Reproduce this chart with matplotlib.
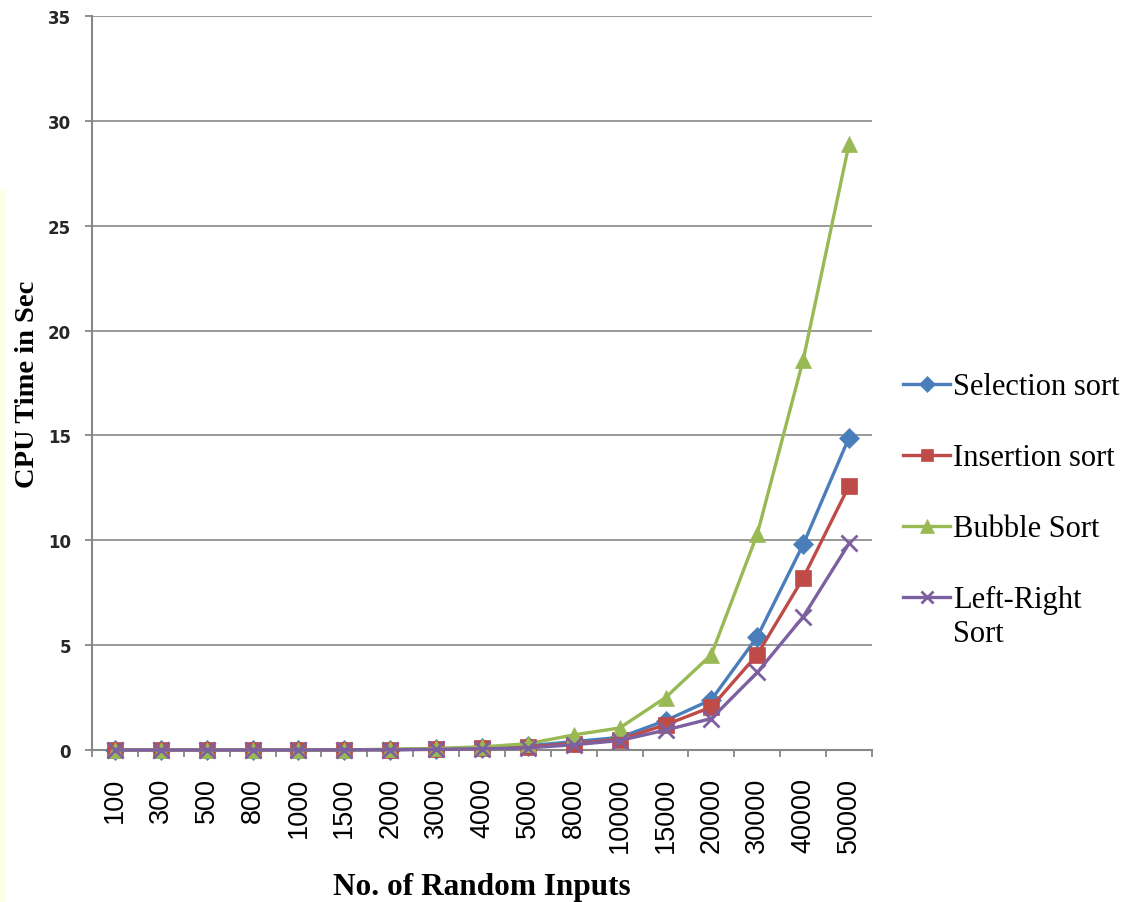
import matplotlib
matplotlib.use("Agg")
import matplotlib.pyplot as plt
from matplotlib.patches import Rectangle
from matplotlib.lines import Line2D

categories = ["100", "300", "500", "800", "1000", "1500", "2000", "3000", "4000",
              "5000", "8000", "10000", "15000", "20000", "30000", "40000", "50000"]

selection = [0.0, 0.0, 0.0, 0.0, 0.0, 0.01, 0.02, 0.05, 0.1, 0.2, 0.4, 0.6, 1.4, 2.4, 5.4, 9.8, 14.9]
insertion = [0.0, 0.0, 0.0, 0.0, 0.0, 0.01, 0.02, 0.04, 0.08, 0.15, 0.3, 0.5, 1.2, 2.05, 4.55, 8.2, 12.6]
bubble = [0.0, 0.0, 0.0, 0.0, 0.0, 0.01, 0.03, 0.08, 0.15, 0.3, 0.72, 1.05, 2.5, 4.55, 10.3, 18.6, 28.9]
left_right = [0.0, 0.0, 0.0, 0.0, 0.0, 0.01, 0.01, 0.03, 0.06, 0.1, 0.25, 0.45, 0.95, 1.5, 3.7, 6.35, 9.85]

series_names = ["Selection sort", "Insertion sort", "Bubble Sort", "Left-Right\nSort"]
series_values = [selection, insertion, bubble, left_right]
series_colors = ["#4A7EBB", "#BE4B48", "#98B954", "#7D60A0"]
series_markers = ["D", "s", "^", "x"]
marker_sizes = [10, 11, 12, 11]

W, H = 1122, 903
fig = plt.figure(figsize=(W / 100, H / 100), dpi=100)
fig.patches.append(Rectangle((0, 0), 5 / W, 713 / H, transform=fig.transFigure,
                             facecolor="#FFFFE3", edgecolor="none", zorder=0))

ax = fig.add_axes([92 / W, 1 - 751 / H, 780 / W, 734 / H])

x = list(range(len(categories)))


def style(marker, color, ms):
    return dict(color=color, lw=2.4, marker=marker, markersize=ms,
                markerfacecolor=color, markeredgecolor=color,
                markeredgewidth=2.0 if marker == "x" else 0.5)


for name, vals, color, marker, ms in zip(series_names, series_values, series_colors,
                                         series_markers, marker_sizes):
    ax.plot(x, vals, label=name, clip_on=False, zorder=3, **style(marker, color, ms))

ax.set_xlim(-0.5, len(categories) - 0.5)
ax.set_ylim(0, 35)
ax.set_yticks(range(0, 36, 5))
ax.yaxis.grid(True, color="#878787", lw=1.2, zorder=0)
ax.set_axisbelow(True)

for side in ("top", "right"):
    ax.spines[side].set_visible(False)
for side in ("left", "bottom"):
    ax.spines[side].set_color("#878787")
    ax.spines[side].set_linewidth(1.5)

# category labels centred, tick marks on the category boundaries
ax.set_xticks(x)
ax.set_xticklabels(categories, rotation=90, fontsize=19.5, family="Liberation Sans")
ax.tick_params(axis="x", which="major", length=0, pad=19.5)
ax.set_xticks([i - 0.5 for i in range(len(categories) + 1)], minor=True)
ax.tick_params(axis="x", which="minor", length=5, width=1.3, color="#878787", direction="out")

ax.tick_params(axis="y", length=5, width=1.3, color="#878787", direction="out", pad=10,
               labelsize=12, labelcolor="#262626")
for lbl in ax.get_yticklabels():
    lbl.set_fontfamily("DejaVu Sans")
    lbl.set_fontweight("bold")

ax.set_ylabel("CPU Time in Sec", fontsize=20.5, fontweight="bold", family="Liberation Serif",
              labelpad=6)
ax.set_xlabel("No. of Random Inputs", fontsize=22.5, fontweight="bold", family="Liberation Serif",
              labelpad=14)

# legend: sample line with marker, label text starting right after it;
# wrapped labels keep their first line level with the sample line
row_y = [385, 456, 527, 598]
line_step = 34
for name, color, marker, ms, yp in zip(series_names, series_colors, series_markers,
                                       marker_sizes, row_y):
    yf = 1 - yp / H
    fig.add_artist(Line2D([903 / W, 950 / W], [yf, yf], transform=fig.transFigure,
                          color=color, lw=2.4))
    fig.add_artist(Line2D([926.5 / W], [yf], transform=fig.transFigure,
                          **{k: v for k, v in style(marker, color, ms * 0.85).items()
                             if k not in ("lw",)}))
    for k, part in enumerate(name.split("\n")):
        fig.text(953 / W, 1 - (yp + 10 + k * line_step) / H, part, ha="left", va="baseline",
                 family="Liberation Serif", fontsize=22)

fig.savefig("out.png", dpi=100)
